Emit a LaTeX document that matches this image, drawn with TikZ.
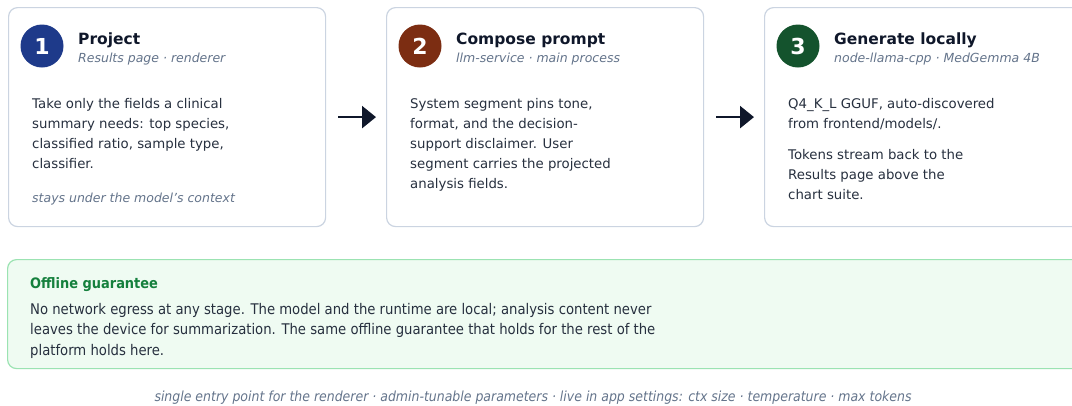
\documentclass[tikz,border=0pt]{standalone}
\usepackage{fontspec}
\setmainfont{DejaVu Sans}
\newfontfamily\condfont{DejaVu Sans Condensed}
\usetikzlibrary{arrows.meta}
\definecolor{cardline}{HTML}{CBD4E1}
\definecolor{titletext}{HTML}{0F172A}
\definecolor{subtext}{HTML}{64748B}
\definecolor{bodytext}{HTML}{27303F}
\definecolor{arrowcol}{HTML}{0F172A}
\definecolor{stepA}{HTML}{1E3A8A}
\definecolor{stepB}{HTML}{7C2D12}
\definecolor{stepC}{HTML}{14532D}
\definecolor{offfill}{HTML}{EFFBF2}
\definecolor{offline}{HTML}{9BE3B2}
\definecolor{offtitle}{HTML}{15803D}

\begin{document}
\begin{tikzpicture}[x=1pt,y=-1pt,
    card/.style={draw=cardline,line width=1.2pt,rounded corners=9pt,fill=white,
        minimum width=317pt,minimum height=219pt,anchor=north west,inner sep=0pt},
    badge/.style={circle,minimum size=43pt,inner sep=0pt,text=white,
        font=\fontsize{22}{22}\selectfont\bfseries},
    cardtitle/.style={anchor=base west,inner sep=0pt,text=titletext,
        font=\fontsize{15.5}{18}\selectfont\bfseries},
    cardsub/.style={anchor=base west,inner sep=0pt,text=subtext,
        font=\fontsize{12.5}{14}\selectfont\itshape},
    cardbody/.style={anchor=north west,align=left,inner sep=0pt,text=bodytext,
        font=\fontsize{13.3}{20}\selectfont},
    flow/.style={line width=2.6pt,draw=arrowcol,-{Triangle[length=14pt,width=22pt]}}]
    \path[use as bounding box,clip](0,0)rectangle(1072,405);
    % the three steps
    \foreach \n/\x/\col/\ttl/\sub in {1/8/stepA/Project/Results page · renderer,
            2/386/stepB/Compose prompt/llm-service · main process,
            3/764/stepC/Generate locally/node-llama-cpp · MedGemma 4B}{
        \node[card](card\n)at(\x,7){};
        \node[badge,fill=\col](badge\n)at([shift={(34,39)}]card\n.north west){\n};
        \node[cardtitle](title\n)at([shift={(70,37)}]card\n.north west){\ttl};
        \node[cardsub](sub\n)at([shift={(70,55)}]card\n.north west){\sub};
    }
    \node[cardbody](body1)at([shift={(24,91.5)}]card1.north west){Take only the fields a clinical\\
        summary needs: top species,\\classified ratio, sample type,\\classifier.};
    \node[cardbody,text=subtext,font=\fontsize{12.5}{20}\selectfont\itshape](note1)
        at([shift={(24,186)}]card1.north west){stays under the model's context};
    \node[cardbody](body2)at([shift={(24,91.5)}]card2.north west){System segment pins tone,\\
        format, and the decision-\\support disclaimer. User\\segment carries the projected\\
        analysis fields.};
    \node[cardbody](body3)at([shift={(24,91.5)}]card3.north west){Q4\_K\_L GGUF, auto-discovered\\
        from frontend/models/.\\[11pt]Tokens stream back to the\\Results page above the\\chart suite.};
    \draw[flow,shorten <=12pt,shorten >=10pt](card1.east)--(card2.west);
    \draw[flow,shorten <=12pt,shorten >=10pt](card2.east)--(card3.west);
    % offline box
    \node[draw=offline,fill=offfill,line width=1.2pt,rounded corners=9pt,anchor=north west,
        minimum width=1090pt,minimum height=109pt](offbox)at(7,259){};
    \node[anchor=base west,inner sep=0pt,text=offtitle,font=\condfont\fontsize{14.4}{16}\selectfont\bfseries]
        (offhead)at([shift={(23,29)}]offbox.north west){Offline guarantee};
    \node[anchor=north west,align=left,inner sep=0pt,text=bodytext,font=\condfont\fontsize{14.7}{20.5}\selectfont]
        (offtext)at([shift={(23,44)}]offbox.north west){No network egress at any stage. The model and the runtime are local; analysis content never\\
        leaves the device for summarization. The same offline guarantee that holds for the rest of the\\
        platform holds here.};
    \node[anchor=base,inner sep=0pt,text=subtext,font=\condfont\fontsize{13.9}{16}\selectfont\itshape](footer)
        at(533,401){single entry point for the renderer · admin-tunable parameters · live in app settings: ctx size · temperature · max tokens};
\end{tikzpicture}
\end{document}
